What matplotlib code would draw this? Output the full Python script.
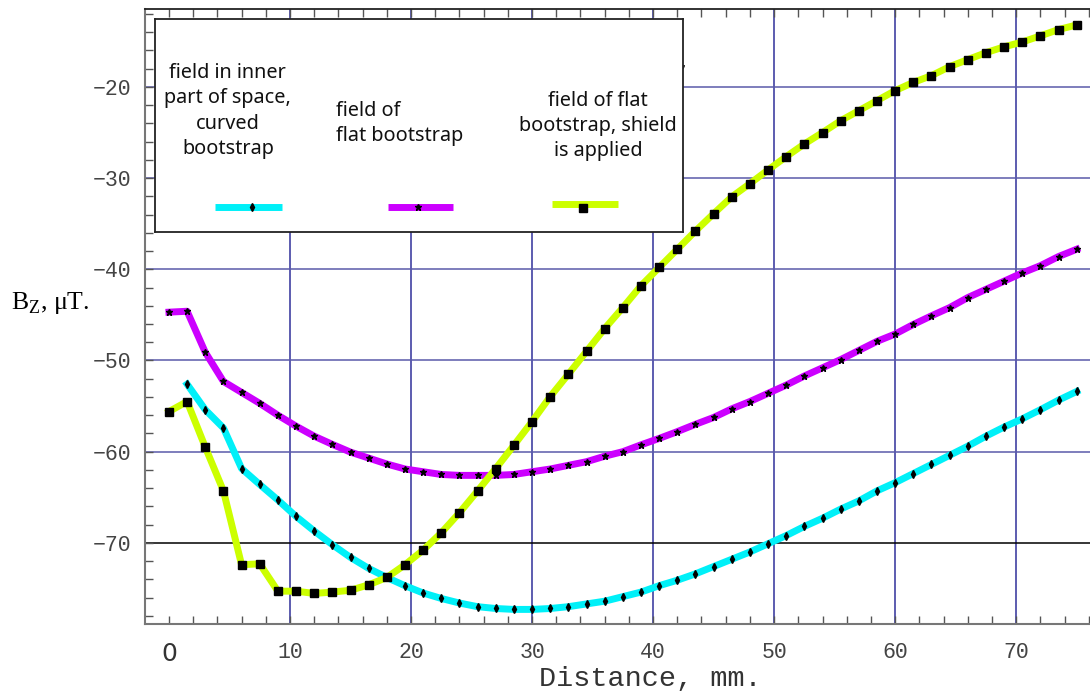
import numpy as np
import matplotlib.pyplot as plt
from matplotlib.ticker import MultipleLocator

# distance along the bootstrap, mm
dist = [0, 1.5, 3, 4.5, 6, 7.5, 9, 10.5, 12, 13.5, 15, 16.5, 18, 19.5, 21, 22.5,
        24, 25.5, 27, 28.5, 30, 31.5, 33, 34.5, 36, 37.5, 39, 40.5, 42, 43.5, 45,
        46.5, 48, 49.5, 51, 52.5, 54, 55.5, 57, 58.5, 60, 61.5, 63, 64.5, 66,
        67.5, 69, 70.5, 72, 73.5, 75]

# Bz, uT -- curved bootstrap, inner part of space (starts at 1.5 mm)
bz_curved = [-52.6, -55.4, -57.4, -61.85, -63.6, -65.3, -67.1, -68.7, -70.2,
             -71.6, -72.8, -73.8, -74.7, -75.5, -76.1, -76.6, -77.0, -77.2,
             -77.3, -77.3, -77.2, -77.0, -76.7, -76.4, -75.9, -75.4, -74.7,
             -74.1, -73.4, -72.6, -71.8, -71.0, -70.1, -69.2, -68.2, -67.3,
             -66.3, -65.4, -64.3, -63.4, -62.4, -61.4, -60.4, -59.4, -58.3,
             -57.3, -56.4, -55.4, -54.35, -53.4]

# flat bootstrap
bz_flat = [-44.7, -44.6, -49.1, -52.3, -53.5, -54.7, -56.0, -57.2, -58.3, -59.2,
           -60.05, -60.7, -61.35, -61.9, -62.2, -62.5, -62.6, -62.6, -62.6,
           -62.5, -62.2, -61.9, -61.5, -61.1, -60.5, -60.0, -59.25, -58.55,
           -57.8, -57.0, -56.25, -55.3, -54.5, -53.6, -52.7, -51.7, -50.8,
           -49.9, -48.9, -47.9, -47.1, -46.05, -45.1, -44.2, -43.1, -42.2,
           -41.3, -40.4, -39.6, -38.6, -37.8]

# flat bootstrap with shield
bz_shield = [-55.6, -54.5, -59.5, -64.3, -72.4, -72.3, -75.3, -75.3, -75.55,
             -75.4, -75.2, -74.6, -73.8, -72.4, -70.8, -68.9, -66.7, -64.3,
             -61.85, -59.3, -56.7, -53.96, -51.5, -49.0, -46.5, -44.2, -41.8,
             -39.8, -37.8, -35.8, -33.9, -32.05, -30.6, -29.1, -27.64, -26.25,
             -25.0, -23.7, -22.6, -21.5, -20.4, -19.5, -18.76, -17.77, -17.0,
             -16.24, -15.6, -15.07, -14.4, -13.7, -13.2]

labels = ["field in inner\npart of space,\ncurved\nbootstrap",
          "field of\nflat bootstrap",
          "field of flat\nbootstrap, shield\nis applied"]

x_ticks = [0, 10, 20, 30, 40, 50, 60, 70]
y_ticks = [-70, -60, -50, -40, -30, -20]

cyan = '#00f0f8'
magenta = '#cc00ff'
lime = '#ccff00'

W, H = 1090, 693
fig = plt.figure(figsize=(W / 100, H / 100), dpi=100)
ax = fig.add_axes([145 / W, 1 - 624 / H, 945 / W, 615 / H])
ax.set_xlim(-1.98, 76.1)
ax.set_ylim(-78.9, -11.45)

# grid
for xv in x_ticks[1:]:
    ax.axvline(xv, color='#30309a', lw=1.1, zorder=1)
for yv in y_ticks:
    ax.axhline(yv, color='black' if yv == -70 else '#5a5aaa', lw=1.1, zorder=1)

lw = 5
ax.plot(dist[1:], bz_curved, color=cyan, lw=lw, zorder=3)
ax.plot(dist[1:], bz_curved, ls='none', marker='d', ms=4, color='black', zorder=4)
ax.plot(dist, bz_flat, color=magenta, lw=lw, zorder=3)
ax.plot(dist, bz_flat, ls='none', marker='*', ms=5, color='black', zorder=4)
ax.plot(dist, bz_shield, color=lime, lw=lw, zorder=3)
ax.plot(dist, bz_shield, ls='none', marker='s', ms=5.5, color='black', zorder=4)

# axes styling
ax.spines['right'].set_visible(False)
for side in ['left', 'bottom']:
    ax.spines[side].set_color('#777777')
    ax.spines[side].set_linewidth(1.5)
ax.spines['top'].set_color('#222222')
ax.spines['top'].set_linewidth(1.3)

ax.set_xticks(x_ticks)
ax.set_yticks(y_ticks)
ax.set_yticklabels(['\u221270', '\u221260', '\u221250', '\u221240', '\u221230', '\u221220'])
ax.xaxis.set_minor_locator(MultipleLocator(2))
ax.yaxis.set_minor_locator(MultipleLocator(2))
ax.tick_params(which='both', direction='in', top=True, right=False,
               length=6, width=1, color='#555555', labelcolor='#444444')
ax.tick_params(axis='x', pad=13)
ax.tick_params(axis='y', pad=10)
for t in ax.get_xticklabels() + ax.get_yticklabels():
    t.set_fontfamily('Liberation Mono')
    t.set_fontsize(15.5)
zero = ax.xaxis.get_major_ticks()[0].label1
zero.set_fontfamily('DejaVu Sans')
zero.set_fontsize(18)
zero.set_color('#333333')

ax.set_xlabel('Distance, mm.', family='Liberation Mono', fontsize=20.5, color='#333333')
ax.xaxis.set_label_coords((650 - 145) / 945, (624 - 666) / 615)

fig.text(11 / W, 1 - 309 / H, r'B$_{\mathregular{Z}}$, μT.', family='Liberation Serif',
         fontsize=18.5, va='baseline', ha='left')

# legend box
leg = fig.add_axes([155 / W, 1 - 232 / H, 528 / W, 213 / H], zorder=5)
leg.set_xlim(0, 1)
leg.set_ylim(0, 1)
leg.set_xticks([])
leg.set_yticks([])
for s in leg.spines.values():
    s.set_color('#222222')
    s.set_linewidth(1.3)

leg.plot([0.114, 0.241], [0.119, 0.119], color=cyan, lw=lw, solid_capstyle='butt')
leg.plot([0.183], [0.119], marker='d', ms=4, color='black')
leg.plot([0.441, 0.564], [0.119, 0.119], color=magenta, lw=lw, solid_capstyle='butt')
leg.plot([0.498], [0.119], marker='*', ms=5, color='black')
leg.plot([0.752, 0.877], [0.131, 0.131], color=lime, lw=lw, solid_capstyle='butt')
leg.plot([0.811], [0.113], marker='s', ms=5.5, color='black')

tkw = dict(family='Noto Sans', fontsize=14.3, linespacing=1.36, color='#111111')
leg.text(0.138, 0.568, labels[0], ha='center', va='center', **tkw)
leg.text(0.343, 0.510, labels[1], ha='left', va='center', **tkw)
leg.text(0.839, 0.498, labels[2], ha='center', va='center', **tkw)

fig.text(681 / W, 1 - 62 / H, ',', fontsize=13, color='#333333', ha='left', va='center')

fig.savefig('out.png', dpi=100)
